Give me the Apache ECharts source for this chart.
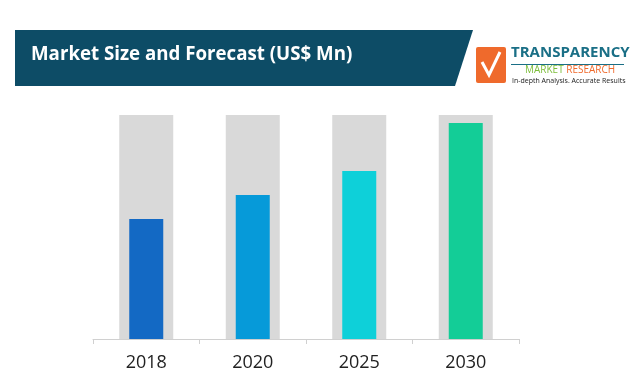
<!DOCTYPE html>
<html><head><meta charset="utf-8">
<script src="https://cdn.jsdelivr.net/npm/echarts@6/dist/echarts.min.js"></script>
<style>html,body{margin:0;padding:0;background:#fff}#c{width:631px;height:390px}</style>
</head><body><div id="c"></div>
<script>
var categories = ['2018', '2020', '2025', '2030'];
var marketSize = [53.6, 64.3, 75.0, 96.4];
var backgroundTrack = [100, 100, 100, 100];
var barColors = ['#1369c4', '#069ad9', '#0ed0d9', '#13cd97'];

var chart = echarts.init(document.getElementById('c'), null, {renderer: 'canvas'});
chart.setOption({
  animation: false,
  backgroundColor: '#ffffff',
  grid: {left: 93, right: 112, top: 115, bottom: 51},
  xAxis: [{
    type: 'category', data: categories,
    axisLine: {show: true, lineStyle: {color: '#d0d0d0', width: 1}},
    axisTick: {show: true, length: 5, lineStyle: {color: '#d0d0d0'}},
    axisLabel: {color: '#222', fontSize: 18, fontFamily: 'Open Sans', margin: 15}
  }, {
    type: 'category', data: categories, show: false
  }],
  yAxis: {type: 'value', min: 0, max: 100, show: false, splitLine: {show: false}},
  series: [
    {type: 'bar', xAxisIndex: 1, data: backgroundTrack, barWidth: 54, silent: true,
     itemStyle: {color: '#d9d9d9'}, z: 1},
    {type: 'bar', xAxisIndex: 0, data: marketSize.map(function(v, i){ return {value: v, itemStyle: {color: barColors[i]}}; }),
     barWidth: 34, z: 2}
  ],
  graphic: [
    {type: 'polygon', shape: {points: [[15, 30], [473, 30], [455, 86], [15, 86]]},
     style: {fill: '#0d4c66'}},
    {type: 'text', left: 31, top: 45,
     style: {text: 'Market Size and Forecast (US$ Mn)', fill: '#ffffff', font: 'bold 18.7px "Open Sans"'}},
    {type: 'rect', shape: {x: 476, y: 47, width: 30, height: 36, r: 2},
     style: {fill: '#ef6a2c'}},
    {type: 'polyline', shape: {points: [[482, 62], [489, 75], [500, 52]]},
     style: {stroke: '#ffffff', lineWidth: 3, fill: null}},
    {type: 'text', left: 511, top: 45,
     style: {text: 'TRANSPARENCY', fill: '#1a6f86', font: 'bold 15px "Open Sans"'}},
    {type: 'rect', shape: {x: 511, y: 64, width: 113, height: 1}, style: {fill: '#1a6f86'}},
    {type: 'text', left: 525, top: 65,
     style: {rich: {a: {fill: '#7cbd3a', font: '10px "Open Sans"'}, b: {fill: '#ef6a2c', font: '10px "Open Sans"'}},
             text: '{a|MARKET }{b|RESEARCH}'}},
    {type: 'text', left: 512, top: 77,
     style: {text: 'In-depth Analysis. Accurate Results', fill: '#222', font: '7px "Open Sans"'}}
  ]
});
</script></body></html>
